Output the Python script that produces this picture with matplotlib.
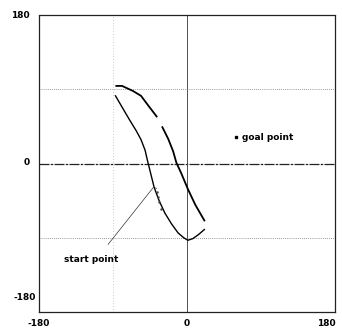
import numpy as np
import matplotlib.pyplot as plt

# upper trajectory (two pieces, there is a gap)
up1_x = [-86, -79, -66, -56, -47, -37]
up1_y = [94, 94, 88, 82, 70, 57]
up2_x = [-30, -23, -17, -13, -7, 1, 10, 21]
up2_y = [44, 30, 15, 1, -12, -31, -50, -69]

# lower trajectory
low_x = [-87, -80, -70, -62, -56, -51, -48, -44, -40, -34, -27, -19, -11, -4, 1, 7, 14, 21]
low_y = [82, 70, 53, 40, 29, 16, 3, -13, -29, -45, -60, -73, -84, -90, -93, -91, -86, -80]

# start point leader line
lead_x = [-96, -41, -37]
lead_y = [-98, -29, -30]

# scattered dots next to the lower curve
dot_x = [-37, -35, -34, -32]
dot_y = [-34, -41, -47, -55]

goal = (60, 32)

xtick_vals = [-180, 0, 180]
ytick_labels = ["180", "0", "-180"]

fig = plt.figure(figsize=(3.42, 3.32), dpi=100)
ax = fig.add_axes([0.114, 0.060, 0.866, 0.895])

ax.set_xlim(-180, 180)
ax.set_ylim(-180, 180)

# reference lines
ax.axhline(0, color="#222222", lw=0.9, linestyle=(0, (8, 1, 2, 1)))
ax.axvline(0, color="#333333", lw=0.6)
for v in [90, -90]:
    ax.axhline(v, color="#777777", lw=0.6, linestyle=(0, (1, 1.5)))
ax.axvline(-90, color="#999999", lw=0.5, linestyle=(0, (1, 3)))

ax.plot(up1_x, up1_y, color="black", lw=1.3)
ax.plot(up2_x, up2_y, color="black", lw=1.3)
ax.plot(low_x, low_y, color="black", lw=1.0)
ax.plot(lead_x, lead_y, color="#333333", lw=0.5)
ax.plot(dot_x, dot_y, linestyle="None", marker=".", ms=1.5, color="#444444")
ax.plot(goal[0], goal[1], linestyle="None", marker="s", ms=2, color="black")

ax.text(goal[0] + 7, goal[1], "goal point", fontsize=6.5, fontweight="bold",
        va="center", ha="left")
ax.text(-150, -116, "start point", fontsize=6.5, fontweight="bold",
        va="center", ha="left")

for s in ax.spines.values():
    s.set_linestyle((0, (10, 1, 2, 1)))
    s.set_color("#222222")
    s.set_linewidth(0.9)

ax.set_xticks(xtick_vals)
ax.set_xticklabels([str(v) for v in xtick_vals])
ax.set_yticks([])
ax.tick_params(length=0, labelsize=6.5, pad=5)
xlabs = ax.get_xticklabels()
for lab in xlabs:
    lab.set_fontweight("bold")
xlabs[-1].set_horizontalalignment("right")
xlabs[-1].set_x(180 + 9)

# y labels sit a little off the axis ends in the original
ylab_pos = [(20, 15), (27, 162), (25, 297)]
for (px, py), t in zip(ylab_pos, ytick_labels):
    fig.text(px / 342, 1 - py / 332, t, fontsize=6.5, fontweight="bold",
             ha="center", va="center")

fig.savefig("out.png", dpi=100)
